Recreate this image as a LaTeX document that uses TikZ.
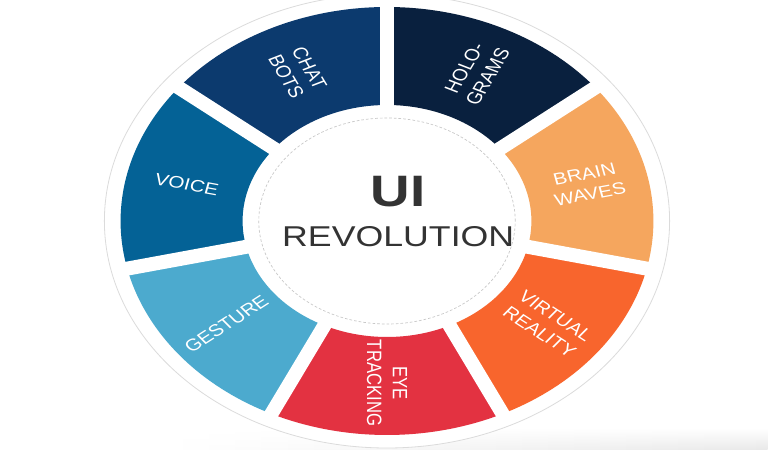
\documentclass[tikz,border=0pt]{standalone}
\usepackage{fontspec}
\setmainfont{Liberation Sans}
\usetikzlibrary{fadings}

\definecolor{chatblue}{RGB}{12,58,110}
\definecolor{holonavy}{RGB}{9,32,62}
\definecolor{brainorange}{RGB}{245,166,94}
\definecolor{vrorange}{RGB}{248,101,45}
\definecolor{eyered}{RGB}{227,50,65}
\definecolor{gestureblue}{RGB}{76,170,206}
\definecolor{voiceblue}{RGB}{4,98,150}
\definecolor{titlegray}{RGB}{51,51,51}

\begin{document}
\begin{tikzpicture}[x=0.75pt, y=0.75pt,
        seglabel/.style={text=white, align=center, inner sep=0pt, transform shape,
            font=\fontsize{12.5}{15.5}\selectfont},
        gapline/.style={white, line width=10.5pt},
        titletext/.style={text=titlegray, inner sep=0pt, transform shape}]
            \useasboundingbox (-387,-229) rectangle (381,221);

            % soft shadow at the bottom
            \shade[left color=white, right color=black!9, path fading=north] (-217,-229) rectangle (381,-207);

            \begin{scope}[xscale=1.245]
            \filldraw[fill=white, draw=black!14, line width=0.6pt] (0,0) circle[radius=227];

            \fill[holonavy]    (90:214)      arc[start angle=90, end angle=38.57, radius=214]
                               -- (38.57:116) arc[start angle=38.57, end angle=90, radius=116] -- cycle;
            \fill[brainorange] (38.57:214)   arc[start angle=38.57, end angle=-12.86, radius=214]
                               -- (-12.86:116) arc[start angle=-12.86, end angle=38.57, radius=116] -- cycle;
            \fill[vrorange]    (-12.86:214)  arc[start angle=-12.86, end angle=-64.29, radius=214]
                               -- (-64.29:116) arc[start angle=-64.29, end angle=-12.86, radius=116] -- cycle;
            \fill[eyered]      (-64.29:214)  arc[start angle=-64.29, end angle=-115.71, radius=214]
                               -- (-115.71:116) arc[start angle=-115.71, end angle=-64.29, radius=116] -- cycle;
            \fill[gestureblue] (-115.71:214) arc[start angle=-115.71, end angle=-167.14, radius=214]
                               -- (-167.14:116) arc[start angle=-167.14, end angle=-115.71, radius=116] -- cycle;
            \fill[voiceblue]   (192.86:214)  arc[start angle=192.86, end angle=141.43, radius=214]
                               -- (141.43:116) arc[start angle=141.43, end angle=192.86, radius=116] -- cycle;
            \fill[chatblue]    (141.43:214)  arc[start angle=141.43, end angle=90, radius=214]
                               -- (90:116) arc[start angle=90, end angle=141.43, radius=116] -- cycle;

            % white gaps between the segments
            \coordinate (hub) at (0,0);
            \draw[gapline] (hub) -- (90:222);
            \draw[gapline] (hub) -- (38.57:222);
            \draw[gapline] (hub) -- (-12.86:222);
            \draw[gapline] (hub) -- (-64.29:222);
            \draw[gapline] (hub) -- (-115.71:222);
            \draw[gapline] (hub) -- (-167.14:222);
            \draw[gapline] (hub) -- (141.43:222);

            \filldraw[fill=white, draw=black!22, line width=0.5pt, dash pattern=on 2pt off 1.5pt] (hub) circle[radius=103];

            \node[seglabel, rotate=64.29]  (holograms) at (64.29:165)   {HOLO-\\GRAMS};
            \node[seglabel, rotate=12.86]  (brain)     at (12.86:165)   {BRAIN\\WAVES};
            \node[seglabel, rotate=-38.57] (virtual)   at (-38.57:165)  {VIRTUAL\\REALITY};
            \node[seglabel, rotate=-90]    (eye)       at (-90:162)     {EYE\\TRACKING};
            \node[seglabel, rotate=38.57]  (gesture)   at (-141.43:165) {GESTURE};
            \node[seglabel, rotate=-12.86] (voice)     at (167.14:165)  {VOICE};
            \node[seglabel, rotate=-64.29] (chatbots)  at (115.71:165)  {CHAT\\BOTS};

            \node[titletext, font=\fontsize{33}{36}\selectfont\bfseries] (ui) at (9,29.5) {UI};
            \node[titletext, font=\fontsize{21.5}{24}\selectfont] (revolution) at (9,-16) {REVOLUTION};
            \end{scope}
        \end{tikzpicture}
\end{document}
